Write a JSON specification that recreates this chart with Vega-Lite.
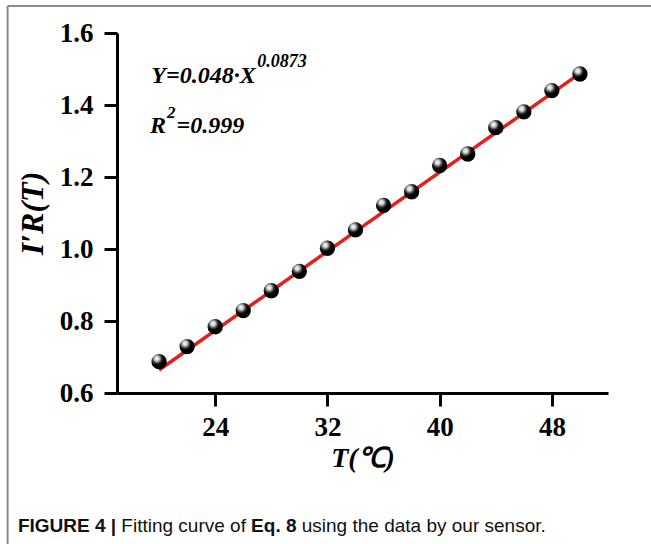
{
  "$schema": "https://vega.github.io/schema/vega-lite/v6.json",
  "width": 491,
  "height": 360,
  "autosize": {"type": "none"},
  "padding": {"left": 117, "top": 33, "right": 43, "bottom": 151},
  "background": "white",
  "config": {
    "view": {"stroke": null},
    "axis": {
      "grid": false,
      "domainColor": "black",
      "domainWidth": 3,
      "tickColor": "black",
      "tickWidth": 3,
      "tickSize": 13,
      "labelFont": "Liberation Serif",
      "labelFontWeight": "bold",
      "labelFontSize": 27,
      "labelColor": "black",
      "titleFont": "Liberation Serif",
      "titleFontWeight": "bold",
      "titleFontStyle": "italic",
      "titleColor": "black"
    }
  },
  "datasets": {
    "obs": [
      {"T": 20, "ratio": 0.687},
      {"T": 22, "ratio": 0.729},
      {"T": 24, "ratio": 0.784},
      {"T": 26, "ratio": 0.829},
      {"T": 28, "ratio": 0.884},
      {"T": 30, "ratio": 0.938},
      {"T": 32, "ratio": 1.002},
      {"T": 34, "ratio": 1.053},
      {"T": 36, "ratio": 1.121},
      {"T": 38, "ratio": 1.159},
      {"T": 40, "ratio": 1.232},
      {"T": 42, "ratio": 1.264},
      {"T": 44, "ratio": 1.337},
      {"T": 46, "ratio": 1.381},
      {"T": 48, "ratio": 1.440},
      {"T": 50, "ratio": 1.486}
    ],
    "fit": [
      {"T": 20, "ratio": 0.664},
      {"T": 50, "ratio": 1.488}
    ],
    "one": [{}]
  },
  "layer": [
    {
      "data": {"name": "one"},
      "mark": {"type": "rule", "color": "#8a8a8a", "strokeWidth": 2},
      "encoding": {
        "x": {"datum": 9.2, "type": "quantitative"},
        "x2": {"datum": 70},
        "y": {"datum": 1.675, "type": "quantitative"}
      }
    },
    {
      "data": {"name": "one"},
      "mark": {"type": "rule", "color": "#8a8a8a", "strokeWidth": 2},
      "encoding": {
        "x": {"datum": 9.2, "type": "quantitative"},
        "y": {"datum": 1.675, "type": "quantitative"},
        "y2": {"datum": 0.0}
      }
    },
    {
      "data": {"name": "fit"},
      "mark": {"type": "line", "color": "#e3201b", "strokeWidth": 3.5},
      "encoding": {
        "x": {
          "field": "T", "type": "quantitative",
          "scale": {"domain": [17, 52], "nice": false, "zero": false},
          "axis": {"values": [24, 32, 40, 48], "title": "T(℃)", "titleFontSize": 28, "labelPadding": 8, "titlePadding": 4}
        },
        "y": {
          "field": "ratio", "type": "quantitative",
          "scale": {"domain": [0.6, 1.6], "nice": false, "zero": false},
          "axis": {"values": [0.6, 0.8, 1.0, 1.2, 1.4, 1.6], "format": ".1f", "title": "I′R(T)", "titleFontSize": 32, "labelPadding": 11, "titlePadding": 10}
        }
      }
    },
    {
      "data": {"name": "obs"},
      "mark": {
        "type": "point",
        "shape": "circle",
        "filled": true,
        "opacity": 1,
        "size": 235,
        "fill": {
          "gradient": "radial",
          "x1": 0.36, "y1": 0.3, "r1": 0,
          "x2": 0.36, "y2": 0.3, "r2": 0.75,
          "stops": [
            {"offset": 0, "color": "#ffffff"},
            {"offset": 0.2, "color": "#d0d0d0"},
            {"offset": 0.4, "color": "#3a3a3a"},
            {"offset": 0.56, "color": "#000000"},
            {"offset": 1, "color": "#000000"}
          ]
        }
      },
      "encoding": {
        "x": {"field": "T", "type": "quantitative"},
        "y": {"field": "ratio", "type": "quantitative"}
      }
    },
    {
      "data": {"name": "one"},
      "mark": {"type": "text", "font": "Liberation Serif", "fontWeight": "bold", "fontStyle": "italic", "fontSize": 24, "align": "left", "baseline": "alphabetic", "color": "black"},
      "encoding": {
        "x": {"datum": 19.45, "type": "quantitative"},
        "y": {"datum": 1.461, "type": "quantitative"},
        "text": {"value": "Y=0.048·X"}
      }
    },
    {
      "data": {"name": "one"},
      "mark": {"type": "text", "font": "Liberation Serif", "fontWeight": "bold", "fontStyle": "italic", "fontSize": 18, "align": "left", "baseline": "alphabetic", "color": "black"},
      "encoding": {
        "x": {"datum": 27.0, "type": "quantitative"},
        "y": {"datum": 1.506, "type": "quantitative"},
        "text": {"value": "0.0873"}
      }
    },
    {
      "data": {"name": "one"},
      "mark": {"type": "text", "font": "Liberation Serif", "fontWeight": "bold", "fontStyle": "italic", "fontSize": 24, "align": "left", "baseline": "alphabetic", "color": "black"},
      "encoding": {
        "x": {"datum": 19.35, "type": "quantitative"},
        "y": {"datum": 1.322, "type": "quantitative"},
        "text": {"value": "R"}
      }
    },
    {
      "data": {"name": "one"},
      "mark": {"type": "text", "font": "Liberation Serif", "fontWeight": "bold", "fontStyle": "italic", "fontSize": 17, "align": "left", "baseline": "alphabetic", "color": "black"},
      "encoding": {
        "x": {"datum": 20.56, "type": "quantitative"},
        "y": {"datum": 1.365, "type": "quantitative"},
        "text": {"value": "2"}
      }
    },
    {
      "data": {"name": "one"},
      "mark": {"type": "text", "font": "Liberation Serif", "fontWeight": "bold", "fontStyle": "italic", "fontSize": 24, "align": "left", "baseline": "alphabetic", "color": "black"},
      "encoding": {
        "x": {"datum": 21.25, "type": "quantitative"},
        "y": {"datum": 1.322, "type": "quantitative"},
        "text": {"value": "=0.999"}
      }
    },
    {
      "data": {"name": "one"},
      "mark": {"type": "text", "font": "Liberation Sans", "fontWeight": "bold", "fontSize": 19, "align": "left", "baseline": "alphabetic", "color": "#111111"},
      "encoding": {
        "x": {"datum": 9.94, "type": "quantitative"},
        "y": {"datum": 0.214, "type": "quantitative"},
        "text": {"value": "FIGURE 4 |"}
      }
    },
    {
      "data": {"name": "one"},
      "mark": {"type": "text", "font": "Liberation Sans", "fontSize": 19, "align": "left", "baseline": "alphabetic", "color": "#111111"},
      "encoding": {
        "x": {"datum": 17.31, "type": "quantitative"},
        "y": {"datum": 0.214, "type": "quantitative"},
        "text": {"value": "Fitting curve of"}
      }
    },
    {
      "data": {"name": "one"},
      "mark": {"type": "text", "font": "Liberation Sans", "fontWeight": "bold", "fontSize": 19, "align": "left", "baseline": "alphabetic", "color": "#111111"},
      "encoding": {
        "x": {"datum": 26.56, "type": "quantitative"},
        "y": {"datum": 0.214, "type": "quantitative"},
        "text": {"value": "Eq. 8"}
      }
    },
    {
      "data": {"name": "one"},
      "mark": {"type": "text", "font": "Liberation Sans", "fontSize": 19, "align": "left", "baseline": "alphabetic", "color": "#111111"},
      "encoding": {
        "x": {"datum": 30.17, "type": "quantitative"},
        "y": {"datum": 0.214, "type": "quantitative"},
        "text": {"value": "using the data by our sensor."}
      }
    }
  ]
}
